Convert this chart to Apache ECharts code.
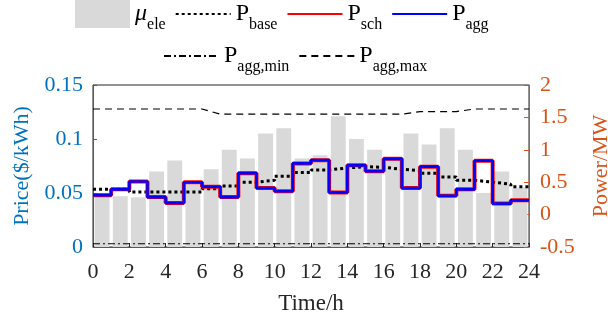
<!DOCTYPE html>
<html>
<head>
<meta charset="utf-8">
<script src="https://cdn.jsdelivr.net/npm/echarts@6/dist/echarts.min.js"></script>
<style>
  html, body { margin: 0; padding: 0; background: #fff; }
  #container { width: 608px; height: 318px; }
</style>
</head>
<body>
<div id="container"></div>
<script>
var hours = ['1', '2', '3', '4', '5', '6', '7', '8', '9', '10', '11', '12',
    '13', '14', '15', '16', '17', '18', '19', '20', '21', '22', '23', '24'];
// electricity price, $/kWh
var price = [0.048, 0.047, 0.046, 0.070, 0.080, 0.058, 0.072, 0.090, 0.082, 0.105, 0.110, 0.082,
    0.085, 0.121, 0.100, 0.090, 0.080, 0.105, 0.095, 0.110, 0.090, 0.050, 0.070, 0.055];
// power, MW (hourly steps)
var pBase = [0.39, 0.39, 0.35, 0.35, 0.35, 0.35, 0.40, 0.44, 0.50, 0.53, 0.59, 0.65,
    0.69, 0.72, 0.74, 0.73, 0.70, 0.68, 0.64, 0.58, 0.53, 0.50, 0.47, 0.43];
var pSch = [0.30, 0.39, 0.51, 0.27, 0.18, 0.50, 0.43, 0.27, 0.64, 0.41, 0.36, 0.79,
    0.84, 0.34, 0.76, 0.67, 0.86, 0.41, 0.74, 0.29, 0.39, 0.83, 0.17, 0.22];
var pAgg = [0.30, 0.39, 0.51, 0.27, 0.18, 0.50, 0.43, 0.27, 0.64, 0.41, 0.36, 0.79,
    0.84, 0.34, 0.76, 0.67, 0.86, 0.41, 0.74, 0.29, 0.39, 0.83, 0.17, 0.22];
// bounds at hour 0..24
var pAggMax = [1.63, 1.63, 1.63, 1.63, 1.63, 1.63, 1.63, 1.55, 1.55, 1.55, 1.55, 1.55, 1.55,
    1.55, 1.55, 1.55, 1.55, 1.55, 1.59, 1.59, 1.59, 1.63, 1.63, 1.63, 1.63];
var pAggMin = [-0.45, -0.45];
var minHours = [0, 24];

var serif = 'Liberation Serif, Times New Roman, serif';
var blue = '#0072BD';
var orange = '#D95319';
var ink = '#262626';

function stepData(vals) {
    var out = vals.map(function (v, i) { return [i, v]; });
    out.push([vals.length, vals[vals.length - 1]]);
    return out;
}

var dom = document.getElementById('container');
var myChart = echarts.init(dom);

// subscript: main letter centred on the line, suffix pushed to the bottom
var legendRich = {
    p: { fontSize: 24, fontFamily: serif, color: '#000', verticalAlign: 'middle' },
    mu: { fontSize: 24, fontFamily: serif, fontStyle: 'italic', color: '#000', verticalAlign: 'middle' },
    s: { fontSize: 16, fontFamily: serif, color: '#000', lineHeight: 38, verticalAlign: 'bottom' }
};
function legendLabel(name) {
    var i = name.indexOf('_');
    var head = name.slice(0, i) === 'mu' ? '{mu|μ}' : '{p|P}';
    return head + '{s|' + name.slice(i + 1) + '}';
}
// line items: hide the marker, keep the stroke
function lineItem(name) {
    return { name: name, itemStyle: { opacity: 0 } };
}

var option = {
    animation: false,
    textStyle: { fontFamily: serif },
    legend: [{
        left: 75,
        top: 0,
        padding: 0,
        itemWidth: 55,
        itemHeight: 28,
        itemGap: 9,
        formatter: legendLabel,
        textStyle: { rich: legendRich },
        data: [{ name: 'mu_ele', icon: 'rect' }, lineItem('P_base'), lineItem('P_sch'), lineItem('P_agg')]
    }, {
        left: 163,
        top: 44,
        padding: 0,
        itemWidth: 55,
        itemHeight: 28,
        itemGap: 9,
        formatter: legendLabel,
        textStyle: { rich: legendRich },
        data: [lineItem('P_agg,min'), lineItem('P_agg,max')]
    }],
    grid: {
        left: 93,
        right: 79,
        top: 85,
        bottom: 71,
        outerBoundsMode: 'none',
        show: true,
        borderColor: ink,
        borderWidth: 1
    },
    xAxis: [{
        type: 'value',
        min: 0,
        max: 24,
        interval: 2,
        position: 'bottom',
        axisLine: { lineStyle: { color: blue, width: 1 } },
        axisTick: { inside: true, length: 4, lineStyle: { color: ink } },
        axisLabel: { color: ink, fontSize: 22, fontFamily: serif, margin: 14 },
        splitLine: { show: false },
        name: 'Time/h',
        nameLocation: 'middle',
        nameGap: 45,
        nameTextStyle: { color: ink, fontSize: 23, fontFamily: serif }
    }, {
        type: 'category',
        data: hours,
        show: false,
        boundaryGap: true
    }],
    yAxis: [{
        type: 'value',
        position: 'left',
        min: 0,
        max: 0.15,
        interval: 0.05,
        axisLine: { show: true, lineStyle: { color: blue, width: 1 } },
        axisTick: { show: true, inside: true, length: 4, lineStyle: { color: blue } },
        axisLabel: { color: blue, fontSize: 22, fontFamily: serif, margin: 10 },
        splitLine: { show: false },
        name: 'Price($/kWh)',
        nameLocation: 'middle',
        nameGap: 58,
        nameTextStyle: { color: blue, fontSize: 22, fontFamily: serif }
    }, {
        type: 'value',
        position: 'right',
        min: -0.5,
        max: 2,
        interval: 0.5,
        axisLine: { show: true, lineStyle: { color: orange, width: 1 } },
        axisTick: { show: true, inside: true, length: 5, lineStyle: { color: orange } },
        axisLabel: { color: orange, fontSize: 22, fontFamily: serif, margin: 11 },
        splitLine: { show: false },
        name: 'Power/MW',
        nameLocation: 'middle',
        nameGap: 61,
        nameTextStyle: { color: orange, fontSize: 22, fontFamily: serif }
    }],
    series: [{
        name: 'mu_ele',
        type: 'bar',
        xAxisIndex: 1,
        yAxisIndex: 0,
        barCategoryGap: '18%',
        itemStyle: { color: '#d9d9d9' },
        data: price
    }, {
        name: 'P_agg,min',
        type: 'line',
        xAxisIndex: 0,
        yAxisIndex: 1,
        symbol: 'none',
        lineStyle: { color: '#000', width: 1.2, type: [7, 3, 2, 3] },
        data: minHours.map(function (h, i) { return [h, pAggMin[i]]; })
    }, {
        name: 'P_agg,max',
        type: 'line',
        xAxisIndex: 0,
        yAxisIndex: 1,
        symbol: 'none',
        lineStyle: { color: '#000', width: 1.2, type: [7, 5] },
        data: pAggMax.map(function (v, i) { return [i, v]; })
    }, {
        name: 'P_base',
        type: 'line',
        xAxisIndex: 0,
        yAxisIndex: 1,
        symbol: 'none',
        step: 'end',
        lineStyle: { color: '#000', width: 3, type: [3, 3] },
        data: stepData(pBase)
    }, {
        name: 'P_sch',
        type: 'line',
        xAxisIndex: 0,
        yAxisIndex: 1,
        symbol: 'none',
        step: 'end',
        lineStyle: { color: '#ff0000', width: 4 },
        data: stepData(pSch)
    }, {
        name: 'P_agg',
        type: 'line',
        xAxisIndex: 0,
        yAxisIndex: 1,
        symbol: 'none',
        step: 'end',
        lineStyle: { color: '#0000ff', width: 2.6 },
        data: stepData(pAgg)
    }]
};

myChart.setOption(option);
</script>
</body>
</html>
